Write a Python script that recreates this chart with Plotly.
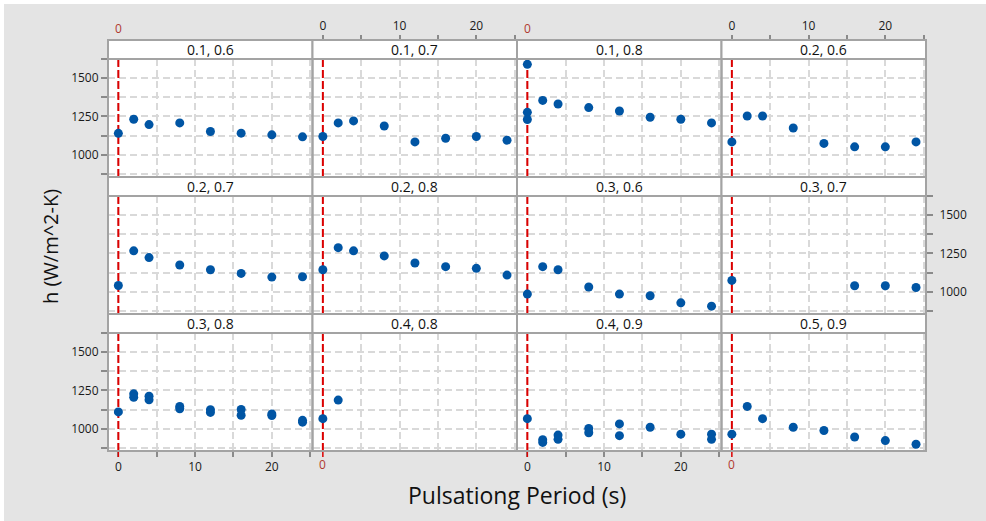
import plotly.graph_objects as go

W, H = 986, 521

# ---------------- data ----------------
panel_labels = ["0.1, 0.6", "0.1, 0.7", "0.1, 0.8", "0.2, 0.6",
                "0.2, 0.7", "0.2, 0.8", "0.3, 0.6", "0.3, 0.7",
                "0.3, 0.8", "0.4, 0.8", "0.4, 0.9", "0.5, 0.9"]

period_std = [0, 2, 4, 8, 12, 16, 20, 24]

h_01_06 = [1140, 1232, 1197, 1208, 1152, 1141, 1130, 1117]
h_01_07 = [1119, 1208, 1221, 1188, 1084, 1108, 1119, 1095]
period_01_08 = [0, 0, 0, 2, 4, 8, 12, 16, 20, 24]
h_01_08 = [1590, 1277, 1230, 1355, 1331, 1308, 1286, 1245, 1232, 1208]
h_02_06 = [1084, 1253, 1253, 1175, 1074, 1052, 1052, 1084]
h_02_07 = [1041, 1267, 1223, 1175, 1144, 1120, 1096, 1098]
h_02_08 = [1144, 1288, 1267, 1234, 1188, 1164, 1153, 1109]
h_03_06 = [985, 1164, 1144, 1031, 985, 974, 928, 906]
period_03_07 = [0, 16, 20, 24]
h_03_07 = [1074, 1039, 1039, 1028]
period_03_08 = [0, 2, 2, 4, 4, 8, 8, 12, 12, 16, 16, 20, 20, 24, 24]
h_03_08 = [1110, 1228, 1205, 1213, 1189, 1146, 1131, 1124, 1107, 1126, 1088,
           1097, 1086, 1055, 1043]
period_04_08 = [0, 2]
h_04_08 = [1066, 1187]
period_04_09 = [0, 2, 2, 4, 4, 8, 8, 12, 12, 16, 20, 24, 24]
h_04_09 = [1066, 929, 911, 959, 931, 1002, 974, 1032, 955, 1010, 965, 965, 931]
h_05_09 = [965, 1146, 1066, 1010, 989, 946, 923, 899]

x_tickvals = [0, 5, 10, 15, 20, 25]
x_ticktext = ["0", "", "10", "", "20", ""]
y_tickvals = [875, 1000, 1125, 1250, 1375, 1500, 1625]
y_ticktext = ["", "1000", "", "1250", "", "1500", ""]
x_range = [-1.35, 25.3]
y_range = [855, 1625]
ref_period = 0

panels_x = [period_std, period_std, period_01_08, period_std,
            period_std, period_std, period_std, period_03_07,
            period_03_08, period_04_08, period_04_09, period_std]
panels_h = [h_01_06, h_01_07, h_01_08, h_02_06,
            h_02_07, h_02_08, h_03_06, h_03_07,
            h_03_08, h_04_08, h_04_09, h_05_09]

# ---------------- style / geometry ----------------
FONT = "Open Sans"
BLUE = "#0055a4"
RED = "#dd0000"
DARKRED = "#b03a30"
BORDER = "#a3a3a3"
GRID = "#d9d9d9"
TICKC = "#8a8a8a"

col_edges = [108, 312.5, 517, 721.5, 926]
row_strip_top = [40, 177, 314]
STRIP = 19
PLOT_H = 118


def px(p):
    return p / W


def py(p):
    return 1 - p / H


fig = go.Figure()
shapes = []
annots = []
layout = {}

for i in range(12):
    r, c = divmod(i, 4)
    n = i + 1
    xa = "x" if n == 1 else f"x{n}"
    ya = "y" if n == 1 else f"y{n}"
    xk = "xaxis" if n == 1 else f"xaxis{n}"
    yk = "yaxis" if n == 1 else f"yaxis{n}"
    x0, x1 = col_edges[c], col_edges[c + 1]
    st = row_strip_top[r]
    ptop = st + STRIP
    pbot = ptop + PLOT_H

    # reference line at period 0 (drawn under markers)
    fig.add_trace(go.Scatter(
        x=[ref_period, ref_period], y=y_range, mode="lines",
        line=dict(color=RED, width=2, dash="8px,3px"),
        xaxis=xa, yaxis=ya, showlegend=False, hoverinfo="skip"))

    fig.add_trace(go.Scatter(
        x=panels_x[i], y=panels_h[i], mode="markers",
        marker=dict(color=BLUE, size=9, line=dict(width=0)),
        xaxis=xa, yaxis=ya, showlegend=False, cliponaxis=False))

    xax = dict(domain=[px(x0), px(x1)], anchor=ya, range=x_range,
               tickvals=x_tickvals, ticktext=x_ticktext,
               showgrid=True, gridcolor=GRID, gridwidth=1.5, griddash="7px,4px",
               zeroline=False, showline=False, showticklabels=False, ticks="",
               tickfont=dict(family=FONT, size=12, color="#1a1a1a"),
               ticklen=5, tickwidth=1.5, tickcolor=TICKC, fixedrange=True)
    if r == 2 and c in (0, 2):
        xax.update(showticklabels=True, ticks="outside", side="bottom")
    if r == 0 and c in (1, 3):
        xax.update(showticklabels=True, ticks="outside", side="top",
                   anchor="free", position=py(st))
    layout[xk] = xax

    yax = dict(domain=[py(pbot), py(ptop)], anchor=xa, range=y_range,
               tickvals=y_tickvals, ticktext=y_ticktext,
               showgrid=True, gridcolor=GRID, gridwidth=1.5, griddash="7px,4px",
               zeroline=False, showline=False, showticklabels=False, ticks="",
               tickfont=dict(family=FONT, size=12, color="#1a1a1a"),
               ticklen=6, tickwidth=1.5, tickcolor=TICKC, fixedrange=True)
    if c == 0 and r in (0, 2):
        yax.update(showticklabels=True, ticks="outside", side="left")
    if c == 3 and r == 1:
        yax.update(showticklabels=True, ticks="outside", side="right",
                   ticklabelstandoff=4)
    layout[yk] = yax

    # panel frame
    shapes.append(dict(type="rect", xref="paper", yref="paper",
                       x0=px(x0), x1=px(x1), y0=py(pbot), y1=py(ptop),
                       line=dict(color=BORDER, width=2),
                       fillcolor="rgba(0,0,0,0)", layer="above"))
    # strip
    shapes.append(dict(type="rect", xref="paper", yref="paper",
                       x0=px(x0), x1=px(x1), y0=py(ptop), y1=py(st),
                       line=dict(color=BORDER, width=2),
                       fillcolor="white", layer="above"))
    annots.append(dict(text=panel_labels[i], xref="paper", yref="paper",
                       x=px((x0 + x1) / 2), y=py(st + STRIP / 2),
                       showarrow=False, xanchor="center", yanchor="middle",
                       font=dict(family=FONT, size=14, color="#111")))

    # red reference labels / ticks
    if r == 0 and c in (0, 2):
        annots.append(dict(text="0", xref=xa, yref="paper", x=ref_period,
                           y=py(29), showarrow=False, xanchor="center",
                           yanchor="middle",
                           font=dict(family=FONT, size=12, color=DARKRED)))
    if r == 2:
        shapes.append(dict(type="line", xref=xa, yref="paper",
                           x0=ref_period, x1=ref_period,
                           y0=py(pbot + 1), y1=py(pbot + 6),
                           line=dict(color=RED, width=1.5), layer="above"))
        if c in (1, 3):
            annots.append(dict(text="0", xref=xa, yref="paper", x=ref_period,
                               y=py(464), showarrow=False, xanchor="center",
                               yanchor="middle",
                               font=dict(family=FONT, size=12, color=DARKRED)))

# white outer border (top / left)
shapes.append(dict(type="rect", xref="paper", yref="paper", x0=0, x1=1,
                   y0=py(4), y1=1, line=dict(width=0), fillcolor="white",
                   layer="above"))
shapes.append(dict(type="rect", xref="paper", yref="paper", x0=0, x1=px(4),
                   y0=0, y1=1, line=dict(width=0), fillcolor="white",
                   layer="above"))

# axis titles
annots.append(dict(text="h (W/m^2-K)", xref="paper", yref="paper",
                   x=px(50), y=py(247), textangle=-90, showarrow=False,
                   xanchor="center", yanchor="middle",
                   font=dict(family=FONT, size=20, color="#111")))
annots.append(dict(text="Pulsationg Period (s)", xref="paper", yref="paper",
                   x=px(517), y=py(495), showarrow=False,
                   xanchor="center", yanchor="middle",
                   font=dict(family=FONT, size=23, color="#111")))

fig.update_layout(
    width=W, height=H, autosize=False,
    margin=dict(l=0, r=0, t=0, b=0, pad=0),
    paper_bgcolor="#e4e4e4", plot_bgcolor="white",
    shapes=shapes, annotations=annots,
    font=dict(family=FONT, size=12, color="#111"),
    **layout)

fig.write_html("out.html", config={"displayModeBar": False})
